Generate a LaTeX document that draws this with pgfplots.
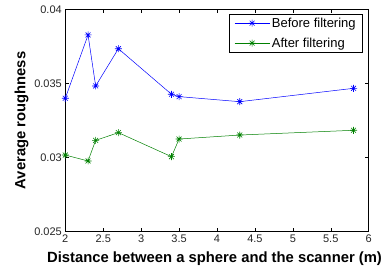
\documentclass[border=0pt]{standalone}
\usepackage{pgfplots}
\pgfplotsset{compat=1.18}
\usepackage{fontspec}
\setmainfont{Liberation Sans}
\usetikzlibrary{calc}
\definecolor{mblue}{rgb}{0,0,1}
\definecolor{mgreen}{rgb}{0,0.5,0}
\pgfdeclareplotmark{mstar}{%
  \pgfpathmoveto{\pgfqpoint{-\pgfplotmarksize}{0pt}}%
  \pgfpathlineto{\pgfqpoint{\pgfplotmarksize}{0pt}}%
  \pgfpathmoveto{\pgfqpoint{0pt}{-\pgfplotmarksize}}%
  \pgfpathlineto{\pgfqpoint{0pt}{\pgfplotmarksize}}%
  \pgfpathmoveto{\pgfqpoint{-0.7\pgfplotmarksize}{-0.7\pgfplotmarksize}}%
  \pgfpathlineto{\pgfqpoint{0.7\pgfplotmarksize}{0.7\pgfplotmarksize}}%
  \pgfpathmoveto{\pgfqpoint{-0.7\pgfplotmarksize}{0.7\pgfplotmarksize}}%
  \pgfpathlineto{\pgfqpoint{0.7\pgfplotmarksize}{-0.7\pgfplotmarksize}}%
  \pgfusepathqstroke}
\begin{document}
\begin{tikzpicture}
\begin{axis}[
  name=ax,
  scale only axis,
  width=303.4bp, height=222.4bp,
  xmin=2, xmax=6, ymin=0.025, ymax=0.04,
  xtick={2,2.5,3,3.5,4,4.5,5,5.5,6},
  ytick={0.025,0.03,0.035,0.04},
  scaled y ticks=false,
  scaled x ticks=false,
  yticklabel style={/pgf/number format/fixed,/pgf/number format/precision=3},
  xticklabel style={/pgf/number format/fixed,/pgf/number format/precision=1},
  /pgf/number format/assume math mode=true,
  tick align=inside,
  major tick length=4bp,
  tick style={black, line width=0.5bp},
  axis line style={black, line width=0.6bp},
  ticklabel style={font=\fontsize{11bp}{13bp}\selectfont, text=black!85},
  xlabel={Distance between a sphere and the scanner (m)},
  ylabel={Average roughness},
  label style={font=\fontsize{14.8bp}{17bp}\selectfont\bfseries},
  xlabel style={at={(axis description cs:0.492,-0.1196)}, anchor=center},
  ylabel style={at={(axis description cs:-0.144,0.5)}, anchor=center},
  legend style={at={(axis description cs:0.981,0.979)}, anchor=north east,
    draw=black, line width=0.5bp, font=\fontsize{13bp}{15bp}\selectfont,
    inner xsep=5bp, inner ysep=1.5bp, row sep=5bp, cells={anchor=west}},
  legend image code/.code={
    \draw[mark repeat=2,mark phase=2] plot coordinates {(0bp,0bp) (17.5bp,0bp) (35bp,0bp)};
  },
  legend cell align=left,
]
\addplot[mblue, line width=0.5bp, mark=mstar, mark size=3.5bp, mark options={line width=0.6bp}]
  coordinates {(2,0.0340) (2.3,0.03827) (2.4,0.03483) (2.7,0.03734) (3.4,0.03427) (3.5,0.03411) (4.3,0.03377) (5.8,0.03467)};
\addlegendentry{Before filtering}
\addplot[mgreen, line width=0.5bp, mark=mstar, mark size=3.5bp, mark options={line width=0.6bp}]
  coordinates {(2,0.03017) (2.3,0.02977) (2.4,0.03116) (2.7,0.03168) (3.4,0.03006) (3.5,0.03125) (4.3,0.03152) (5.8,0.03184)};
\addlegendentry{After filtering}
\end{axis}
\pgfresetboundingbox
\path[use as bounding box] ($(ax.south west)+(-65.3bp,-38.3bp)$) rectangle ($(ax.north east)+(15.3bp,9.3bp)$);
\end{tikzpicture}
\end{document}
